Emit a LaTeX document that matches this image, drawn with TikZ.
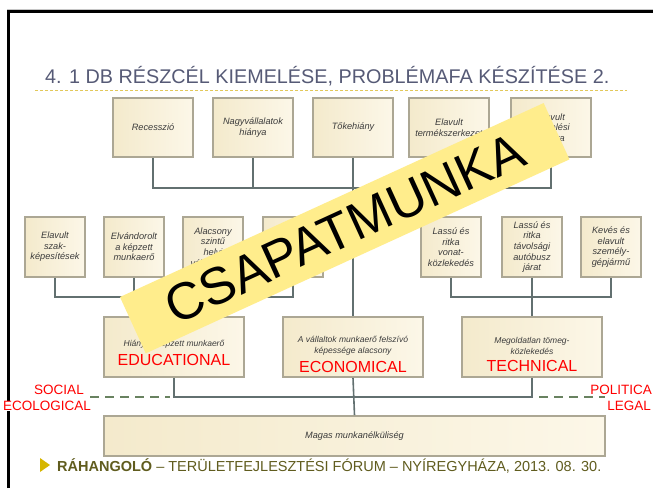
\documentclass[tikz,border=0pt]{standalone}
\usepackage{fontspec}
\setmainfont{Liberation Sans}
\definecolor{titlegray}{RGB}{86,90,118}
\definecolor{boxline}{RGB}{172,167,148}
\definecolor{boxfillA}{RGB}{244,234,204}
\definecolor{boxfillB}{RGB}{252,247,232}
\definecolor{linkgray}{RGB}{98,112,112}
\definecolor{dashgreen}{RGB}{104,130,96}
\definecolor{dashyellow}{RGB}{226,200,90}
\definecolor{noteyellow}{RGB}{255,237,140}
\definecolor{footolive}{RGB}{96,92,30}
\definecolor{footgold}{RGB}{214,182,0}
\definecolor{txtgray}{RGB}{60,60,60}
\newcommand{\areaname}[1]{{\fontsize{16}{18}\selectfont\upshape\color{red}#1}}
\begin{document}
\begin{tikzpicture}[
        x=1pt, y=-1pt,
        cause/.style={rectangle, draw=boxline, line width=1.6pt, left color=boxfillA, right color=boxfillB, align=center, inner sep=1pt, text=txtgray, font=\fontsize{9.2}{10.6}\selectfont\itshape},
        topcause/.style={cause, minimum width=80pt, minimum height=59pt},
        midcause/.style={cause, minimum width=60pt, minimum height=60pt},
        effect/.style={cause, minimum width=140pt, minimum height=60pt},
        effecttext/.style={align=center, inner sep=0pt, text=txtgray, font=\fontsize{8.5}{10.5}\selectfont\itshape},
        link/.style={draw=linkgray, line width=1.6pt},
        greendash/.style={draw=dashgreen, line width=1.6pt, dash pattern=on 9pt off 6pt},
        redlabel/.style={text=red, inner sep=0pt, font=\fontsize{13.5}{16}\selectfont},
        note/.style={rectangle, fill=noteyellow, minimum width=466pt, minimum height=62pt, inner sep=0pt, font=\fontsize{52}{52}\selectfont}
    ]
        \useasboundingbox (0,0) rectangle (653,488);
        \fill[white] (0,0) rectangle (653,488);

        % 边框
        \draw[gray!45, line width=0.8pt] (7,9.3) -- (653,9.3);
        \draw[black, line width=3pt] (8.5,488) -- (8.5,11.5) -- (653,11.5);

        % 标题
        \node[anchor=base west, inner sep=0pt, text=titlegray, font=\fontsize{19.8}{24}\selectfont] (title) at (45,83) {4. 1 DB RÉSZCÉL KIEMELÉSE, PROBLÉMAFA KÉSZÍTÉSE 2.};
        \draw[dashyellow, line width=0.8pt, dash pattern=on 3pt off 2pt] (35,90) -- (627,90);

        % 第一层
        \node[topcause] (t1) at (153,127.5) {Recesszió};
        \node[topcause] (t2) at (253,127.5) {Nagyvállalatok\\hiánya};
        \node[topcause] (t3) at (353,127.5) {Tőkehiány};
        \node[topcause] (t4) at (449,127.5) {Elavult\\termékszerkezet};
        \node[topcause] (t5) at (551,127.5) {Elavult\\termelési\\kultúra};

        % 第二层
        \node[midcause] (m1) at (55,247) {Elavult\\szak-\\képesítések};
        \node[midcause] (m2) at (134,247) {Elvándorolt\\a képzett\\munkaerő};
        \node[midcause] (m3) at (213,247) {Alacsony\\szintű\\helyi\\vállalkozás};
        \node[midcause] (m4) at (293,247) {};
        \node[midcause] (m5) at (451,247) {Lassú és\\ritka\\vonat-\\közlekedés};
        \node[midcause] (m6) at (532,247) {Lassú és\\ritka\\távolsági\\autóbusz\\járat};
        \node[midcause] (m7) at (611,247) {Kevés és\\elavult\\személy-\\gépjármű};

        % 第三层
        \node[effect] (e1) at (174,347) {};
        \node[effect] (e2) at (353,347) {};
        \node[effect] (e3) at (532,347) {};
        \node[effecttext, yshift=-6pt] (e1txt) at (e1) {Hiányzó képzett munkaerő\\[5pt]\areaname{EDUCATIONAL}};
        \node[effecttext, yshift=-7.5pt] (e2txt) at (e2) {A vállaltok munkaerő felszívó\\képessége alacsony\\[5pt]\areaname{ECONOMICAL}};
        \node[effecttext, yshift=-7.5pt] (e3txt) at (e3) {Megoldatlan tömeg-\\közlekedés\\[5pt]\areaname{TECHNICAL}};

        % 根
        \node[cause, minimum width=501pt, minimum height=40pt] (root) at (354.5,436) {Magas munkanélküliség};

        % 连线
        \coordinate (tbar) at (353,188);
        \draw[link] (t1.south) |- (tbar) -| (t5.south);
        \draw[link] (t2.south) -- (t2.south |- tbar);
        \draw[link] (t4.south) -- (t4.south |- tbar);
        \draw[link] (t3.south) -- (e2.north);

        \coordinate (lbar) at (174,297);
        \draw[link] (m1.south) |- (lbar) -| (m4.south);
        \draw[link] (m2.south) -- (m2.south |- lbar);
        \draw[link] (m3.south) -- (m3.south |- lbar);
        \draw[link] (lbar) -- (e1.north);

        \coordinate (rbar) at (532,297);
        \draw[link] (m5.south) |- (rbar) -| (m7.south);
        \draw[link] (m6.south) -- (e3.north);

        \coordinate (bbar) at (353,397);
        \draw[link] (e1.south) |- (bbar) -| (e3.south);
        \draw[link] (e2.south) -- (root.north);

        % 外部因素
        \coordinate (sl1) at (90,397);
        \coordinate (sl2) at (170,397);
        \coordinate (sr1) at (539,397);
        \coordinate (sr2) at (605,397);
        \draw[greendash] (sl1) -- (sl2);
        \draw[greendash] (sr1) -- (sr2);
        \node[redlabel] (social) at (59,390) {SOCIAL};
        \node[redlabel, anchor=west, fill=white] (ecol) at (3,406) {ECOLOGICAL};
        \node[redlabel, anchor=east] (polit) at (652,390) {POLITICA};
        \node[redlabel, anchor=east] (legal) at (651,406) {LEGAL};

        % 便签
        \node[note, rotate=24.6] (csapat) at (344.7,228.2) {CSAPATMUNKA};

        % 页脚
        \fill[footgold] (40,458) -- (50,465) -- (40,472) -- cycle;
        \node[anchor=base west, inner sep=0pt, text=footolive, font=\fontsize{14.5}{17}\selectfont] (footer) at (57,471) {\textbf{RÁHANGOLÓ} – TERÜLETFEJLESZTÉSI FÓRUM – NYÍREGYHÁZA, 2013. 08. 30.};
    \end{tikzpicture}
\end{document}
